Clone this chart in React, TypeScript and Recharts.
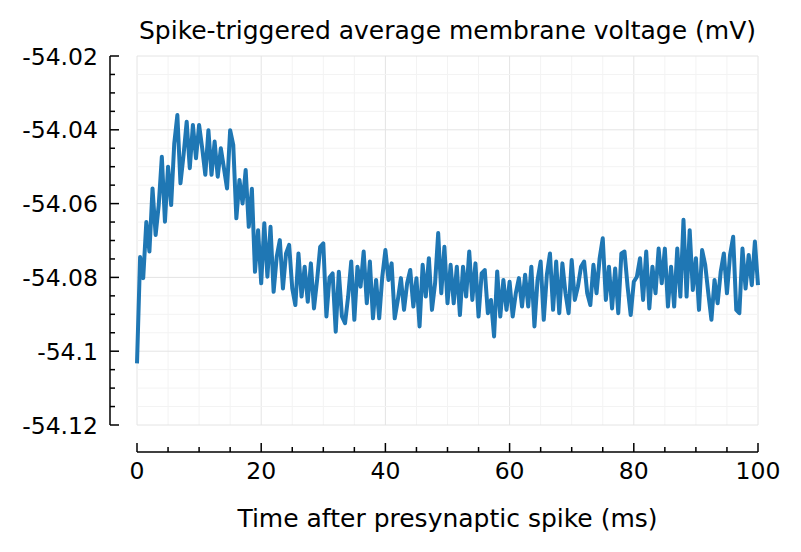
import React from "react";
import { LineChart, Line, XAxis, YAxis, ReferenceLine } from "recharts";

// ---- data ----
const STEP_MS = 0.5;
const VOLTAGE_MV = [
  -54.1033, -54.0745, -54.0802, -54.0650, -54.0730, -54.0559, -54.0685, -54.0604, -54.0473, -54.0649,
  -54.0500, -54.0604, -54.0437, -54.0360, -54.0545, -54.0468, -54.0378, -54.0504, -54.0387, -54.0477,
  -54.0387, -54.0450, -54.0522, -54.0401, -54.0522, -54.0432, -54.0527, -54.0450, -54.0504, -54.0559,
  -54.0401, -54.0441, -54.0640, -54.0536, -54.0600, -54.0509, -54.0663, -54.0560, -54.0785, -54.0672,
  -54.0816, -54.0653, -54.0798, -54.0663, -54.0839, -54.0744, -54.0699, -54.0830, -54.0735, -54.0712,
  -54.0830, -54.0875, -54.0735, -54.0852, -54.0771, -54.0866, -54.0762, -54.0884, -54.0807, -54.0717,
  -54.0708, -54.0906, -54.0800, -54.0789, -54.0947, -54.0785, -54.0906, -54.0924, -54.0852, -54.0757,
  -54.0915, -54.0771, -54.0825, -54.0730, -54.0870, -54.0757, -54.0911, -54.0807, -54.0911, -54.0798,
  -54.0726, -54.0807, -54.0762, -54.0911, -54.0861, -54.0802, -54.0888, -54.0816, -54.0780, -54.0879,
  -54.0802, -54.0933, -54.0766, -54.0852, -54.0748, -54.0888, -54.0816, -54.0680, -54.0843, -54.0717,
  -54.0870, -54.0766, -54.0870, -54.0771, -54.0902, -54.0771, -54.0852, -54.0730, -54.0861, -54.0762,
  -54.0906, -54.0789, -54.0780, -54.0897, -54.0861, -54.0960, -54.0784, -54.0906, -54.0807, -54.0888,
  -54.0812, -54.0906, -54.0843, -54.0802, -54.0879, -54.0793, -54.0879, -54.0771, -54.0933, -54.0807,
  -54.0757, -54.0915, -54.0793, -54.0735, -54.0888, -54.0757, -54.0897, -54.0762, -54.0843, -54.0897,
  -54.0753, -54.0861, -54.0825, -54.0771, -54.0757, -54.0843, -54.0875, -54.0766, -54.0843, -54.0748,
  -54.0694, -54.0861, -54.0771, -54.0884, -54.0776, -54.0897, -54.0735, -54.0730, -54.0825, -54.0902,
  -54.0812, -54.0798, -54.0748, -54.0861, -54.0730, -54.0884, -54.0771, -54.0843, -54.0722, -54.0816,
  -54.0722, -54.0879, -54.0771, -54.0879, -54.0722, -54.0852, -54.0644, -54.0852, -54.0672, -54.0834,
  -54.0748, -54.0888, -54.0726, -54.0766, -54.0843, -54.0915, -54.0807, -54.0870, -54.0784, -54.0735,
  -54.0843, -54.0739, -54.0690, -54.0888, -54.0897, -54.0722, -54.0830, -54.0739, -54.0821, -54.0703,
  -54.0821,
];

const X_MAJOR = [0, 20, 40, 60, 80, 100];
const X_MINOR = [5, 10, 15, 25, 30, 35, 45, 50, 55, 65, 70, 75, 85, 90, 95];
const Y_MAJOR = [-54.12, -54.1, -54.08, -54.06, -54.04, -54.02];
const Y_MINOR = [
  -54.115, -54.11, -54.105, -54.095, -54.09, -54.085, -54.075, -54.07, -54.065,
  -54.055, -54.05, -54.045, -54.035, -54.03, -54.025,
];
const X_DOMAIN = [0, 100];
const Y_DOMAIN = [-54.12, -54.02];

const TITLE = "Spike-triggered average membrane voltage (mV)";
const X_LABEL = "Time after presynaptic spike (ms)";

const data = VOLTAGE_MV.map((v, i) => ({ t: i * STEP_MS, v }));
const X_TICKS = [...X_MAJOR, ...X_MINOR].sort((a, b) => a - b);
const Y_TICKS = [...Y_MAJOR, ...Y_MINOR].sort((a, b) => a - b);

const isMajor = (v: number, majors: number[]) => majors.some((m) => Math.abs(m - v) < 1e-9);
const fmtY = (v: number) => String(Number(v.toFixed(2)));

const FONT = "'DejaVu Sans', sans-serif";
const TICK_FS = 23.5;
const LABEL_FS = 25;
const MAJOR_LEN = 9;
const MINOR_LEN = 5;

function YTick(props: any) {
  const { x, y, payload } = props;
  const v = payload.value as number;
  const major = isMajor(v, Y_MAJOR);
  return (
    <g>
      <line x1={x} y1={y} x2={x + (major ? MAJOR_LEN : MINOR_LEN)} y2={y} stroke="#000" strokeWidth={1.5} />
      {major && (
        <text x={x - 12} y={y + 8.5} textAnchor="end" fontFamily={FONT} fontSize={TICK_FS} fill="#000">
          {fmtY(v)}
        </text>
      )}
    </g>
  );
}

function XTick(props: any) {
  const { x, y, payload } = props;
  const v = payload.value as number;
  const major = isMajor(v, X_MAJOR);
  return (
    <g>
      <line x1={x} y1={y} x2={x} y2={y - (major ? MAJOR_LEN : MINOR_LEN)} stroke="#000" strokeWidth={1.5} />
      {major && (
        <text x={x} y={y + 26.5} textAnchor="middle" fontFamily={FONT} fontSize={TICK_FS} fill="#000">
          {String(v)}
        </text>
      )}
    </g>
  );
}

export default function App() {
  return (
    <div style={{ position: "absolute", left: 0, top: 0, width: 801, height: 552, background: "#fff" }}>
      <LineChart width={801} height={552} data={data} margin={{ top: 56, right: 43, bottom: 0, left: 0 }}>
        <XAxis xAxisId="gap" dataKey="t" type="number" domain={X_DOMAIN} height={27} tick={false} axisLine={false} tickLine={false} />
        <XAxis
          xAxisId="main"
          dataKey="t"
          type="number"
          domain={X_DOMAIN}
          ticks={X_TICKS}
          interval={0}
          height={100}
          tickSize={0}
          tickMargin={0}
          tickLine={false}
          axisLine={{ stroke: "#000", strokeWidth: 1.5 }}
          tick={<XTick />}
        />
        <YAxis yAxisId="gap" type="number" domain={Y_DOMAIN} width={27} tick={false} axisLine={false} tickLine={false} />
        <YAxis
          yAxisId="main"
          type="number"
          domain={Y_DOMAIN}
          ticks={Y_TICKS}
          interval={0}
          width={110}
          tickSize={0}
          tickMargin={0}
          tickLine={false}
          axisLine={{ stroke: "#000", strokeWidth: 1.5 }}
          tick={<YTick />}
          allowDataOverflow
        />
        {X_TICKS.map((t) => (
          <ReferenceLine
            key={"gx" + t}
            x={t}
            xAxisId="main"
            yAxisId="main"
            stroke={isMajor(t, X_MAJOR) ? "#e4e4e4" : "#f3f3f3"}
            strokeWidth={1}
          />
        ))}
        {Y_TICKS.map((v) => (
          <ReferenceLine
            key={"gy" + v}
            y={v}
            xAxisId="main"
            yAxisId="main"
            stroke={isMajor(v, Y_MAJOR) ? "#e4e4e4" : "#f3f3f3"}
            strokeWidth={1}
          />
        ))}
        <Line
          xAxisId="main"
          yAxisId="main"
          dataKey="v"
          type="linear"
          stroke="#1f77b4"
          strokeWidth={4}
          strokeLinejoin="round"
          dot={false}
          activeDot={false}
          isAnimationActive={false}
        />
      </LineChart>
      <div
        style={{
          position: "absolute",
          left: 137,
          width: 621,
          top: 19,
          textAlign: "center",
          fontFamily: FONT,
          fontSize: LABEL_FS,
          lineHeight: "24px",
          color: "#000",
          whiteSpace: "nowrap",
        }}
      >
        {TITLE}
      </div>
      <div
        style={{
          position: "absolute",
          left: 137,
          width: 621,
          top: 507,
          textAlign: "center",
          fontFamily: FONT,
          fontSize: LABEL_FS,
          lineHeight: "24px",
          color: "#000",
          whiteSpace: "nowrap",
        }}
      >
        {X_LABEL}
      </div>
    </div>
  );
}
